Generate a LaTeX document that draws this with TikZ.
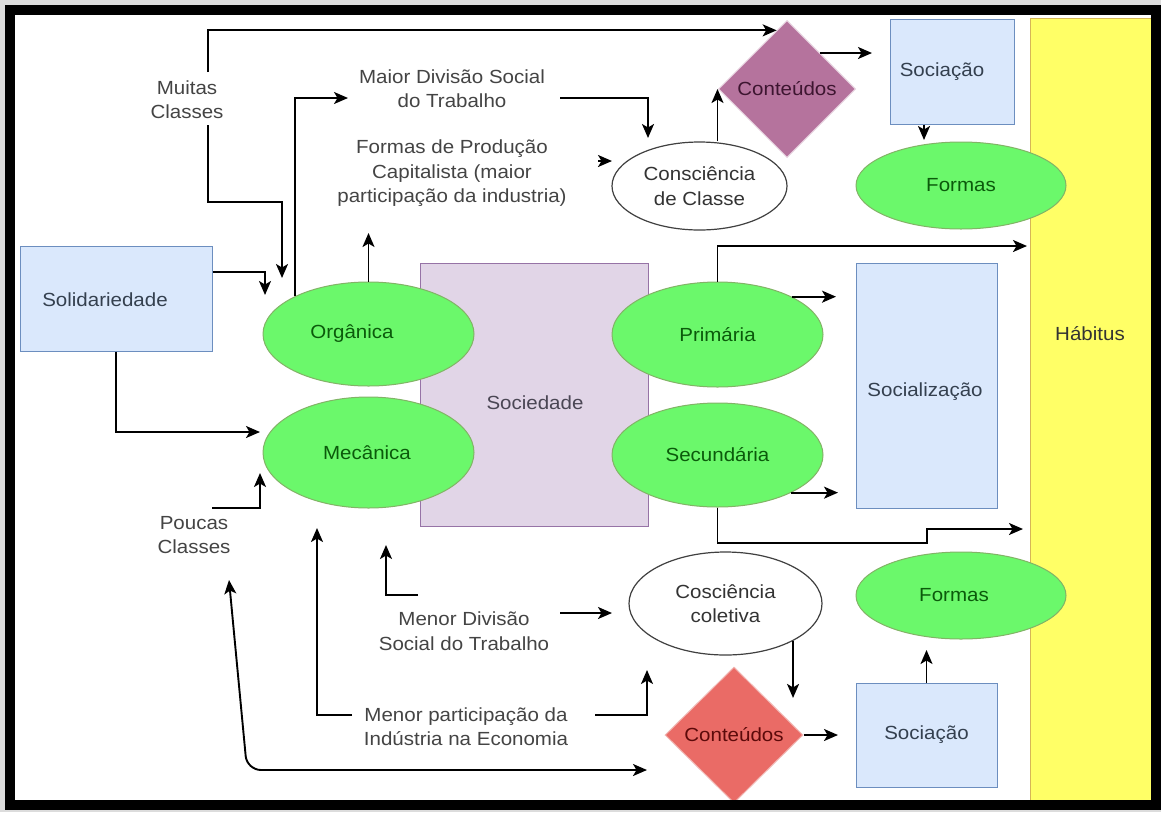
\documentclass[tikz,border=0pt]{standalone}
\usepackage{fontspec}
\setmainfont{Liberation Sans}[FakeStretch=1.08]
\usetikzlibrary{shapes.geometric,arrows.meta,calc}
\definecolor{gfill}{HTML}{6BF86B}
\definecolor{gline}{HTML}{82B366}
\definecolor{gtext}{HTML}{0B5A0B}
\definecolor{bfill}{HTML}{DAE8FC}
\definecolor{bline}{HTML}{6C8EBF}
\definecolor{btext}{HTML}{34404F}
\definecolor{lfill}{HTML}{E1D5E7}
\definecolor{lline}{HTML}{9673A6}
\definecolor{stext}{HTML}{4A4654}
\definecolor{pfill}{HTML}{B5739D}
\definecolor{pline}{HTML}{E6D0DE}
\definecolor{ptext}{HTML}{3D1530}
\definecolor{rfill}{HTML}{EA6B66}
\definecolor{rline}{HTML}{F2B8B5}
\definecolor{rtext}{HTML}{5C0A0A}
\definecolor{yfill}{HTML}{FFFF66}
\definecolor{yline}{HTML}{D6B656}
\definecolor{lblc}{HTML}{444444}
\definecolor{dtext}{HTML}{333333}
\definecolor{framegray}{HTML}{DCDCDC}
\begin{document}
\begin{tikzpicture}[x=1pt,y=-1pt,
  txt/.style={font=\fontsize{19}{24.5}\selectfont, align=center, inner sep=0pt},
  lbl/.style={txt, text=lblc},
  gell/.style={ellipse, draw=gline, fill=gfill, line width=1pt, inner sep=0pt, txt, text=gtext},
  bbox/.style={rectangle, draw=bline, fill=bfill, line width=1pt, inner sep=0pt, txt, text=btext},
  well/.style={ellipse, draw=black!75, fill=white, line width=1.2pt, inner sep=0pt, txt, text=dtext},
  arr/.style={line width=1.9pt, -{Stealth[length=14pt,width=12pt,inset=3.5pt]}},
  darr/.style={line width=1.9pt, {Stealth[length=14pt,width=12pt,inset=3.5pt]}-{Stealth[length=14pt,width=12pt,inset=3.5pt]}},
]
\useasboundingbox (0,0) rectangle (1161,812);
\fill[framegray] (0,0) rectangle (1161,812);
\fill[white] (10,10) rectangle (1156,805);

% Habitus
\node[rectangle, draw=yline, fill=yfill, line width=1pt, inner sep=0pt, minimum width=122pt, minimum height=786pt] (hab) at (1091,411) {};
\node[txt, text=dtext] (habT) at (1090,334) {Hábitus};

% Sociedade
\node[rectangle, draw=lline, fill=lfill, line width=1pt, inner sep=0pt, minimum width=228pt, minimum height=263pt] (soc) at (534,394.5) {};
\node[txt, text=stext] (socT) at (535,403) {Sociedade};

% Ellipses left
\node[gell, minimum width=211pt, minimum height=104pt] (org) at (368.5,334) {};
\node[txt, text=gtext] (orgT) at (352,334) {Orgânica};
\node[gell, minimum width=211pt, minimum height=111pt] (mec) at (368.5,452.5) {};
\node[txt, text=gtext] (mecT) at (367,453) {Mecânica};

% Ellipses right
\node[gell, minimum width=211pt, minimum height=105pt] (pri) at (717.5,334.5) {Primária};
\node[gell, minimum width=211pt, minimum height=104pt] (sec) at (717.5,455) {Secundária};

% Blue boxes
\node[bbox, minimum width=192pt, minimum height=105pt] (sol) at (116,298.5) {};
\node[txt, text=btext] (solT) at (105,300) {Solidariedade};
\node[bbox, minimum width=141pt, minimum height=245pt] (sz) at (926.5,385.5) {};
\node[txt, text=btext] (szT) at (925,392) {Socialização};
\node[bbox, minimum width=124pt, minimum height=105pt] (soc1) at (952,71.5) {};
\node[txt, text=btext] (soc1T) at (942,72) {Sociação};
\node[bbox, minimum width=141pt, minimum height=104pt] (soc2) at (926.5,735) {Sociação};

% Formas
\node[gell, minimum width=210pt, minimum height=87pt] (fo1) at (961,185.5) {Formas};
\node[gell, minimum width=210pt, minimum height=87pt] (fo2) at (961,595.5) {};
\node[txt, text=gtext] (fo2T) at (954,595) {Formas};

% White ellipses
\node[well, minimum width=175pt, minimum height=88pt] (cc) at (699.5,186) {Consciência\\de Classe};
\node[well, minimum width=193pt, minimum height=103pt] (co) at (725.5,603.5) {Cosciência\\coletiva};

% Diamonds
\node[diamond, fill=pfill, draw=pline, line width=1pt, inner sep=0pt, minimum width=137pt, minimum height=137pt, txt, text=ptext] (pc) at (787,89) {Conteúdos};
\node[diamond, fill=rfill, draw=rline, line width=1pt, inner sep=0pt, minimum width=138pt, minimum height=136pt, txt, text=rtext] (rc) at (734,735) {Conteúdos};

% Free labels
\node[lbl] (muitas) at (187,99.5) {Muitas\\Classes};
\node[lbl] (maior) at (452,88.5) {Maior Divisão Social\\do Trabalho};
\node[lbl] (fprod) at (452,173.5) {Formas de Produção\\Capitalista (maior\\participação da industria)};
\node[lbl] (poucas) at (194,535) {Poucas\\Classes};
\node[lbl] (mdiv) at (464,631) {Menor Divisão\\Social do Trabalho};
\node[lbl] (mpart) at (466,726.5) {Menor participação da\\Indústria na Economia};

% coordinates
\coordinate (mu1) at (208,72);
\coordinate (mu2) at (208,125);
\coordinate (mu2e) at (282,278);
\coordinate (solorg) at (265,295);
\coordinate (mecin) at (260,432);
\coordinate (maiorin) at (348,98);
\coordinate (fpin) at (368.5,233);
\coordinate (maiorout) at (560,98);
\coordinate (ccin) at (648,138);
\coordinate (fpout) at (598,161);
\coordinate (ccin2) at (612,161);
\coordinate (pcout) at (820,53);
\coordinate (soc1in) at (872,53);
\coordinate (fo1in) at (924,140);
\coordinate (habin1) at (1027,246);
\coordinate (szin1) at (836,297);
\coordinate (szin2) at (838,492);
\coordinate (secb) at (927,543);
\coordinate (habin2) at (1023,529);
\coordinate (poout) at (212,508);
\coordinate (mecin2) at (260,473);
\coordinate (mdout1) at (418,595);
\coordinate (mecin3) at (386,545);
\coordinate (mdout2) at (560,613);
\coordinate (coin1) at (612,613);
\coordinate (mpout1) at (352,715);
\coordinate (mecin4) at (317,528);
\coordinate (mpout2) at (595,715);
\coordinate (coin2) at (647,670);
\coordinate (potip) at (229,580);
\coordinate (dcorner) at (247,770);
\coordinate (rcin) at (647,770);
\coordinate (soc2in) at (838,735);
\coordinate (fo2in) at (926.5,650);

% connectors
\draw[arr] (mu1) |- ($(pc.north)!0.15!(pc.west)$);
\draw[arr] (mu2) -- ++(0,77) -| (mu2e);
\draw[arr] ([yshift=26.5pt]sol.east) -| (solorg);
\draw[arr] (sol.south) |- (mecin);
\draw[arr] (org.153) |- (maiorin);
\draw[arr] (org.north) -- (fpin);
\draw[arr] (maiorout) -| (ccin);
\draw[arr] (fpout) -- (ccin2);
\draw[arr] ([xshift=18pt]cc.north) -- ([xshift=18pt]cc.north |- pc.west);
\draw[arr] (pcout) -- (soc1in);
\draw[arr] ([xshift=-28pt]soc1.south) -- (fo1in);
\draw[arr] (pri.north) |- (habin1);
\draw[arr] (pri.27) -- (pri.27 -| szin1);
\draw[arr] (sec.-27) -- (sec.-27 -| szin2);
\draw[arr] (sec.south) |- (secb) |- (habin2);
\draw[arr] (poout) -| (mecin2);
\draw[arr] (mdout1) -| (mecin3);
\draw[arr] (mdout2) -- (coin1);
\draw[arr] (mpout1) -| (mecin4);
\draw[arr] (mpout2) -| (coin2);
\draw[darr, rounded corners=14pt] (potip) -- (dcorner) -- (rcin);
\draw[arr] (co.-29) -- ++(0,57);
\draw[arr] (rc.east) -- (soc2in);
\draw[arr] (soc2.north) -- (fo2in);

% frame
\draw[black, line width=10pt] (10,10) rectangle (1156,805);
\end{tikzpicture}
\end{document}
